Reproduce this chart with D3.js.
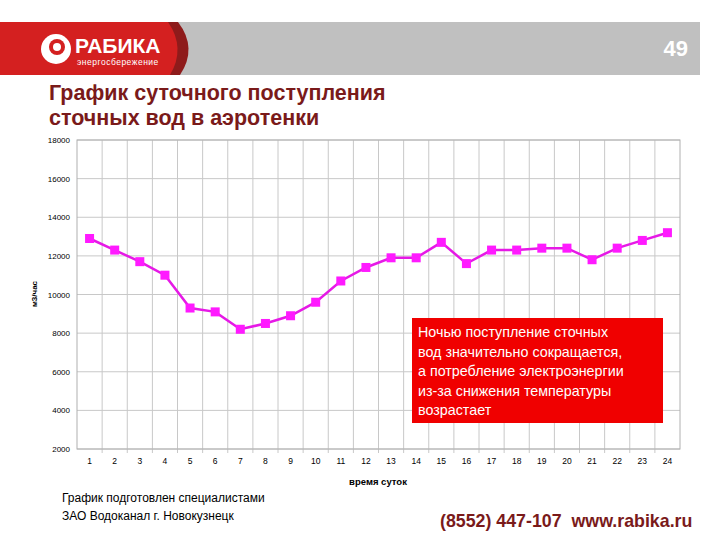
<!DOCTYPE html>
<html><head><meta charset="utf-8">
<script src="https://cdn.jsdelivr.net/npm/d3@7"></script>
<style>body{margin:0;background:#fff}</style></head>
<body><svg id="c" width="720" height="540"></svg>
<script>
const hours = ["1","2","3","4","5","6","7","8","9","10","11","12","13","14","15","16","17","18","19","20","21","22","23","24"];
const inflow = [12900,12300,11700,11000,9300,9100,8200,8500,8900,9600,10700,11400,11900,11900,12700,11600,12300,12300,12400,12400,11800,12400,12800,13200];
const yTicks = [2000,4000,6000,8000,10000,12000,14000,16000,18000];

const svg = d3.select("#c");
const F = "Liberation Sans, Arial, sans-serif";
// header
svg.append("rect").attr("x",0).attr("y",22).attr("width",700).attr("height",53).attr("fill","#c0c0c0");
svg.append("path").attr("d","M0,22 H178 Q198,48 180,75 H0 Z").attr("fill","#8e1b1b");
svg.append("path").attr("d","M0,22 H168 Q186,48 170,75 H0 Z").attr("fill","#d42020");
svg.append("circle").attr("cx",56).attr("cy",49).attr("r",15).attr("fill","#fff");
svg.append("circle").attr("cx",57).attr("cy",47).attr("r",8).attr("fill","#d42020");
svg.append("circle").attr("cx",57).attr("cy",47).attr("r",4).attr("fill","#fff");
svg.append("text").attr("x",75).attr("y",53).attr("fill","#fff").attr("font-family",F).attr("font-weight","bold").attr("font-size",21).text("РАБИКА");
svg.append("text").attr("x",77).attr("y",65).attr("fill","#fff").attr("font-family",F).attr("font-size",8.5).attr("letter-spacing",0.5).text("энергосбережение");
svg.append("text").attr("x",688).attr("y",56).attr("text-anchor","end").attr("fill","#fff").attr("font-family",F).attr("font-weight","bold").attr("font-size",22).text("49");
// title
const t = svg.append("text").attr("fill","#7a1a1a").attr("font-family",F).attr("font-weight","bold").attr("font-size",21.5);
t.append("tspan").attr("x",49).attr("y",100).text("График суточного поступления");
t.append("tspan").attr("x",49).attr("y",125).text("сточных вод в аэротенки");

// chart
const L=77,R=680,T=140,B=449;
const x = d3.scaleBand().domain(hours).range([L,R]);
const y = d3.scaleLinear().domain([2000,18000]).range([B,T]);
const g = svg.append("g");
g.selectAll(".hg").data(yTicks).join("line").attr("x1",L).attr("x2",R).attr("y1",d=>y(d)).attr("y2",d=>y(d)).attr("stroke","#c8c8c8");
g.selectAll(".vg").data(hours.slice(1)).join("line").attr("x1",d=>x(d)).attr("x2",d=>x(d)).attr("y1",T).attr("y2",B+4).attr("stroke","#c8c8c8");
g.append("rect").attr("x",L).attr("y",T).attr("width",R-L).attr("height",B-T).attr("fill","none").attr("stroke","#b0b0b0");
const ya = d3.axisLeft(y).tickValues(yTicks).tickFormat(d3.format("d")).tickSize(0).tickPadding(7);
svg.append("g").attr("transform",`translate(${L},0)`).call(ya).call(s=>s.select(".domain").remove())
  .selectAll("text").attr("font-family",F).attr("font-size",8).attr("fill","#000");
const xa = d3.axisBottom(x).tickSize(0).tickPadding(9);
svg.append("g").attr("transform",`translate(0,${B})`).call(xa).call(s=>s.select(".domain").remove())
  .selectAll("text").attr("font-family",F).attr("font-size",8.5).attr("fill","#000");
svg.append("text").attr("x",0).attr("y",0).attr("transform","translate(37,294) rotate(-90)").attr("text-anchor","middle").attr("font-family",F).attr("font-weight","bold").attr("font-size",8).text("м3/час");
svg.append("text").attr("x",378).attr("y",485).attr("text-anchor","middle").attr("font-family",F).attr("font-weight","bold").attr("font-size",9.5).text("время суток");

const line = d3.line().x((d,i)=>x(hours[i])+x.bandwidth()/2).y(d=>y(d));
svg.append("path").datum(inflow).attr("d",line).attr("fill","none").attr("stroke","#e619e6").attr("stroke-width",2.5);
svg.selectAll(".pt").data(inflow).join("rect").attr("x",(d,i)=>x(hours[i])+x.bandwidth()/2-4.5).attr("y",d=>y(d)-4.5).attr("width",9).attr("height",9).attr("fill","#ff1aff");

// callout
svg.append("rect").attr("x",412).attr("y",318).attr("width",251).attr("height",105).attr("fill","#f00000");
const c = svg.append("text").attr("fill","#fff").attr("font-family",F).attr("font-size",14.3);
["Ночью поступление сточных","вод значительно сокращается,","а потребление электроэнергии","из-за снижения температуры","возрастает"].forEach((s,i)=>c.append("tspan").attr("x",418).attr("y",337+i*19.5).text(s));

// footer
const f = svg.append("text").attr("font-family",F).attr("font-size",12).attr("fill","#000");
f.append("tspan").attr("x",62).attr("y",502).text("График подготовлен специалистами");
f.append("tspan").attr("x",62).attr("y",520).text("ЗАО Водоканал г. Новокузнецк");
svg.append("text").attr("x",440).attr("y",527).attr("font-family",F).attr("font-weight","bold").attr("font-size",17.8).attr("fill","#7a1a1a").attr("xml:space","preserve").text("(8552) 447-107  www.rabika.ru");
</script></body></html>
